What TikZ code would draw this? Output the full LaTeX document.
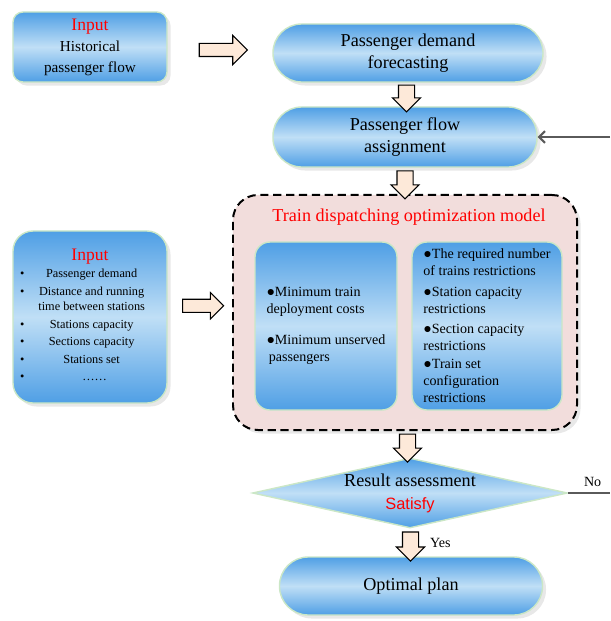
\documentclass[tikz,border=0pt]{standalone}
\usepackage{fontspec}
\setmainfont{Liberation Serif}
\setsansfont{Liberation Sans}
\usetikzlibrary{calc, positioning, arrows.meta, shapes.geometric, shapes.arrows, shadows}
\definecolor{boxblue}{RGB}{79, 159, 229}
\definecolor{boxlight}{RGB}{192, 223, 246}
\definecolor{boxborder}{RGB}{203, 231, 198}
\definecolor{modelpink}{RGB}{242, 221, 220}
\definecolor{arrowpeach}{RGB}{253, 233, 217}
\definecolor{linegray}{RGB}{90, 90, 90}
\newcommand{\redword}[1]{{\fontsize{15}{18}\selectfont\color{red}#1}}

\begin{document}
\begin{tikzpicture}[
    x=0.03cm, y=-0.03cm,
    >={Straight Barb[length=5pt, width=10pt]},
    boxshade/.style={top color=boxblue, bottom color=boxblue, middle color=boxlight,
        draw=boxborder, line width=1.2pt,
        drop shadow={shadow xshift=3pt, shadow yshift=-3pt, fill=black!9, opacity=1}},
    inputbox/.style={boxshade, rounded corners=0.3cm, align=center, inner sep=2pt,
        font=\fontsize{13}{18}\selectfont},
    stadium/.style={boxshade, rounded corners=0.86cm, align=center, inner sep=2pt,
        font=\fontsize{15.5}{19}\selectfont},
    innerbox/.style={top color=boxblue, bottom color=boxblue, middle color=boxlight,
        draw=boxborder, line width=1.2pt, rounded corners=0.45cm, align=left,
        inner sep=2pt, minimum height=5.04cm, font=\fontsize{12}{14.5}\selectfont},
    modelbox/.style={fill=modelpink, draw=black, line width=1.7pt,
        dash pattern=on 7pt off 4pt, rounded corners=0.75cm,
        drop shadow={shadow xshift=3pt, shadow yshift=-3pt, fill=black!9, opacity=1}},
    decision/.style={diamond, aspect=4.5, inner sep=0pt, align=center,
        top color=boxblue, bottom color=boxblue, middle color=boxlight,
        draw=boxborder, line width=1.2pt, font=\fontsize{15.5}{19.5}\selectfont},
    blockarrow/.style={single arrow, draw=black, line width=0.9pt, fill=arrowpeach},
    blockdown/.style={blockarrow, shape border rotate=270, inner sep=0.225cm,
        single arrow head extend=0.18cm},
    fbline/.style={draw=linegray, line width=1.7pt},
    smalltext/.style={font=\fontsize{12}{14}\selectfont}
]
\useasboundingbox (0,0) rectangle (610,621);

% ============================================================
%  Entrees (colonne de gauche)
% ============================================================
\node[inputbox, minimum width=4.62cm, minimum height=2.1cm] (histin) at (90,47)
    {\redword{Input}\\Historical\\passenger flow};

\node[inputbox, rounded corners=0.6cm, minimum width=4.62cm, minimum height=5.16cm,
      font=\fontsize{10.5}{15}\selectfont] (datain) at (90,317) {%
    \begin{tabular}{@{}p{0.55cm}@{}c@{\hspace{0.45cm}}}
    \multicolumn{2}{c}{\redword{Input}}\\
    \textbullet & Passenger demand\\
    \textbullet & Distance and running\\[-2pt]
                & time between stations\\
    \textbullet & Stations capacity\\
    \textbullet & Sections capacity\\
    \textbullet & Stations set\\
    \textbullet & \ \ ……
    \end{tabular}};

% ============================================================
%  Chaine principale
% ============================================================
\node[stadium, minimum width=8.1cm, minimum height=1.74cm] (forecast) at (408,53)
    {Passenger demand\\forecasting};
\node[stadium, minimum width=7.92cm, minimum height=1.8cm] (assign) at (405,137)
    {Passenger flow\\assignment};

% --- Modele d'optimisation (cadre en tirets) ---
\node[modelbox, minimum width=10.32cm, minimum height=7.05cm] (model) at (405,312.5) {};
\node[font=\fontsize{15.5}{18}\selectfont, text=red] (modeltitle) at (409,217)
    {Train dispatching optimization model};
\node[innerbox, minimum width=4.26cm] (objectives) at (326,326) {%
    ●Minimum train\\
    deployment costs\\[12pt]
    ●Minimum unserved\\
    \,passengers};
\node[innerbox, minimum width=4.5cm] (constraints) at (487,326) {%
    ●The required number\\
    of trains restrictions\\[3pt]
    ●Station capacity\\
    restrictions\\[3pt]
    ●Section capacity\\
    restrictions\\[1pt]
    ●Train set\\
    configuration\\
    restrictions};

% --- Evaluation et plan optimal ---
\node[decision, minimum width=9.45cm, minimum height=2.1cm] (assess) at (410,493)
    {Result assessment\\{\sffamily\fontsize{14}{18}\selectfont\color{red}Satisfy}};
\node[stadium, minimum width=7.89cm, minimum height=1.74cm] (optimal) at (411,586)
    {Optimal plan};

% ============================================================
%  Fleches
% ============================================================
\node[blockarrow, inner sep=0.18cm, single arrow head extend=0.24cm,
      minimum height=1.44cm] (arrhist) at ($(histin.east)!0.5!(forecast.west)$) {};
\node[blockarrow, inner sep=0.18cm, single arrow head extend=0.2cm,
      minimum height=1.23cm, yshift=0.27cm] (arrdata) at ($(datain.east)!0.5!(model.west)$) {};
\node[blockdown, minimum height=0.8cm] (arrfore) at ($(forecast.south)!0.5!(assign.north)$) {};
\node[blockdown, minimum height=0.84cm] (arrassign) at ($(assign.south)!0.5!(model.north)$) {};
\node[blockdown, minimum height=0.84cm] (arrmodel) at ($(model.south)!0.5!(assess.north)$) {};
\node[blockdown, minimum height=0.87cm] (arrassess) at ($(assess.south)!0.5!(optimal.north)$) {};
\node[smalltext, right=6pt of arrassess] (yeslabel) {Yes};

% --- Retour (coupe au bord) ---
\coordinate (fbin) at (610,137);
\coordinate (noend) at (610,493);
\draw[fbline, ->] (fbin) -- (assign.east);
\draw[fbline] (assess.east) -- (noend)
    node[smalltext, midway, above=1pt, xshift=3pt, text=black] (nolabel) {No};

\end{tikzpicture}
\end{document}
